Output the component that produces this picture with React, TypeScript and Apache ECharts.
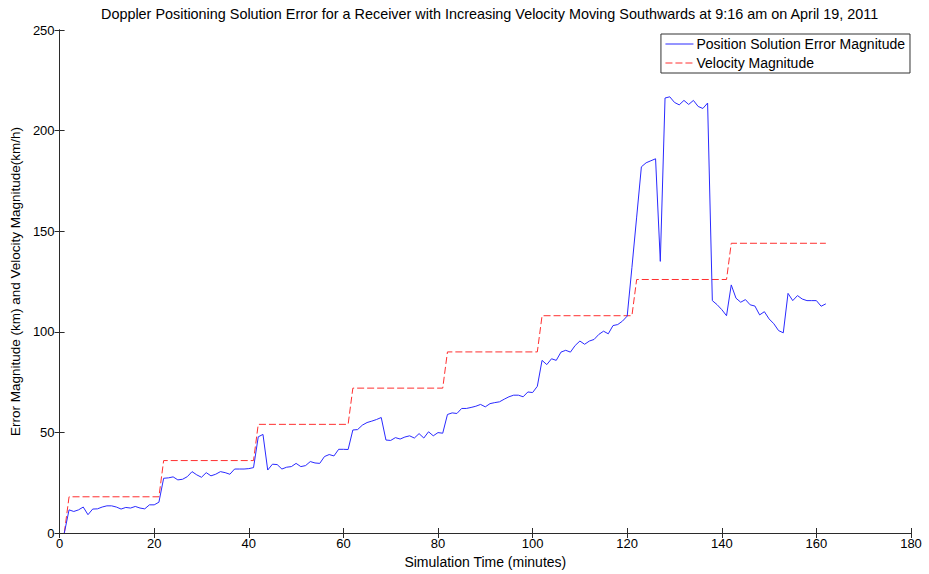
import React, { useEffect, useRef } from "react";
import * as echarts from "echarts";

// Position solution error magnitude (km), one sample per simulated minute starting at minute 1
const errorMagnitude: number[] = [
  0, 11.5, 10.7, 11.5, 12.9, 9.1, 11.9, 12, 12.9, 13.5,
  13.5, 12.9, 11.9, 12.7, 12.4, 13.2, 12.4, 12, 14, 14,
  15.3, 27.2, 27.4, 27.9, 26.4, 26.7, 28, 30.5, 28.9, 27.7,
  30, 28.4, 29.2, 30.5, 30, 29.2, 31.8, 31.8, 31.8, 32,
  32.5, 47.8, 49, 31.3, 34.2, 34, 31.8, 32.7, 33, 34.6,
  33, 33.5, 35.5, 34.8, 34.6, 38, 39, 38.3, 41.6, 41.6,
  41.5, 51.2, 51.4, 53.6, 54.9, 55.6, 56.4, 57.4, 46.2, 46,
  47.4, 46.7, 47.7, 48.3, 47.2, 49.4, 47.2, 50.3, 48.3, 49.9,
  49.6, 58.9, 59.7, 59.4, 61.9, 61.9, 62.4, 63, 63.9, 62.7,
  64.3, 64.8, 65.2, 66.5, 67.7, 68.5, 68.5, 67.7, 70.1, 69.8,
  72.9, 85.8, 83.7, 86.6, 85.8, 89.9, 90.8, 89.9, 93.2, 95.4,
  93.8, 95.4, 96.2, 98.7, 100.3, 99, 103.1, 103.6, 105.3, 107.8,
  132, 157, 182, 184, 185, 186, 135, 216.2, 216.8, 214,
  212.8, 215, 213, 215, 212, 211, 213.7, 115.5, 113.5, 111,
  108, 123.3, 116.7, 114.7, 116, 113.4, 112.8, 108.4, 110, 106.4,
  104, 100.6, 99.5, 119.1, 115.5, 118, 116.3, 115.5, 115.5, 115.5,
  112.7, 113.9,
];

// Receiver velocity magnitude (km/h): corner points of the stepped profile [minute, km/h]
const velocityCorners: [number, number][] = [
  [1, 0], [2, 18], [21, 18], [22, 36], [41, 36], [42, 54],
  [61, 54], [62, 72], [81, 72], [82, 90], [101, 90], [102, 108],
  [121, 108], [122, 126], [141, 126], [142, 144], [162, 144],
];

const xTicks = { min: 0, max: 180, interval: 20 };
const yTicks = { min: 0, max: 250, interval: 50 };

const titleText =
  "Doppler Positioning Solution Error for a Receiver with Increasing Velocity Moving Southwards at 9:16 am on April 19, 2011";
const xName = "Simulation Time (minutes)";
const yName = "Error Magnitude (km) and Velocity Magnitude(km/h)";
const errorName = "Position Solution Error Magnitude";
const velocityName = "Velocity Magnitude";

const FONT = "'Liberation Sans', Arial, sans-serif";
const AXIS_COLOR = "#2b2b2b";
const ERROR_COLOR = "#2a2aff";
const VELOCITY_COLOR = "#ff3030";

export default function App() {
  const ref = useRef<HTMLDivElement>(null);

  useEffect(() => {
    if (!ref.current) return;
    const chart = echarts.init(ref.current, undefined, { renderer: "svg" });

    const errorData = errorMagnitude.map((v, i) => [i + 1, v]);

    const mirrorAxisCommon = {
      axisLine: { show: true, lineStyle: { color: AXIS_COLOR, width: 1 } },
      axisTick: { show: true, inside: true, length: 5, lineStyle: { color: AXIS_COLOR } },
      axisLabel: { show: false },
      splitLine: { show: false },
    };

    chart.setOption({
      animation: false,
      backgroundColor: "#ffffff",
      textStyle: { fontFamily: FONT },
      title: {
        text: titleText,
        left: 96,
        top: 2,
        textStyle: { fontSize: 14.4, fontWeight: "normal", color: "#000", fontFamily: FONT },
      },
      grid: { left: 56, right: 18, top: 30, bottom: 39, containLabel: false },
      legend: {
        orient: "vertical",
        right: 19,
        top: 34,
        align: "left",
        itemWidth: 28,
        itemHeight: 14,
        itemGap: 5,
        padding: [3, 5, 3, 4],
        borderColor: "#333",
        borderWidth: 1,
        borderRadius: 0,
        backgroundColor: "#ffffff",
        itemStyle: { opacity: 0 },
        lineStyle: { width: 1 },
        textStyle: { fontSize: 14, color: "#000", fontFamily: FONT, padding: [0, 0, 0, -2] },
        data: [errorName, velocityName],
      },
      xAxis: [
        {
          type: "value",
          min: xTicks.min,
          max: xTicks.max,
          interval: xTicks.interval,
          name: xName,
          nameLocation: "middle",
          nameGap: 22,
          nameTextStyle: { fontSize: 14, color: "#000", fontFamily: FONT },
          axisLine: { show: true, onZero: false, lineStyle: { color: AXIS_COLOR, width: 1 } },
          axisTick: { show: true, inside: true, length: 5, lineStyle: { color: AXIS_COLOR } },
          axisLabel: { fontSize: 13, color: "#000", margin: 4, fontFamily: FONT },
          splitLine: { show: false },
        },
        {
          type: "value",
          position: "top",
          min: xTicks.min,
          max: xTicks.max,
          interval: xTicks.interval,
          ...mirrorAxisCommon,
        },
      ],
      yAxis: [
        {
          type: "value",
          min: yTicks.min,
          max: yTicks.max,
          interval: yTicks.interval,
          name: yName,
          nameLocation: "middle",
          nameGap: 31,
          nameRotate: 90,
          nameTextStyle: { fontSize: 13.5, color: "#000", fontFamily: FONT },
          axisLine: { show: true, onZero: false, lineStyle: { color: AXIS_COLOR, width: 1 } },
          axisTick: { show: true, inside: true, length: 5, lineStyle: { color: AXIS_COLOR } },
          axisLabel: { fontSize: 13, color: "#000", margin: 5, fontFamily: FONT },
          splitLine: { show: false },
        },
        {
          type: "value",
          position: "right",
          min: yTicks.min,
          max: yTicks.max,
          interval: yTicks.interval,
          ...mirrorAxisCommon,
        },
      ],
      series: [
        {
          name: errorName,
          type: "line",
          data: errorData,
          showSymbol: false,
          symbol: "none",
          lineStyle: { color: ERROR_COLOR, width: 1 },
          itemStyle: { color: ERROR_COLOR },
          z: 3,
        },
        {
          name: velocityName,
          type: "line",
          data: velocityCorners,
          showSymbol: false,
          symbol: "none",
          lineStyle: { color: VELOCITY_COLOR, width: 1, type: [7, 3] },
          itemStyle: { color: VELOCITY_COLOR },
          z: 2,
        },
      ],
    });

    return () => chart.dispose();
  }, []);

  return (
    <div
      ref={ref}
      style={{ position: "fixed", left: 0, top: 0, width: 929, height: 574 }}
    />
  );
}
